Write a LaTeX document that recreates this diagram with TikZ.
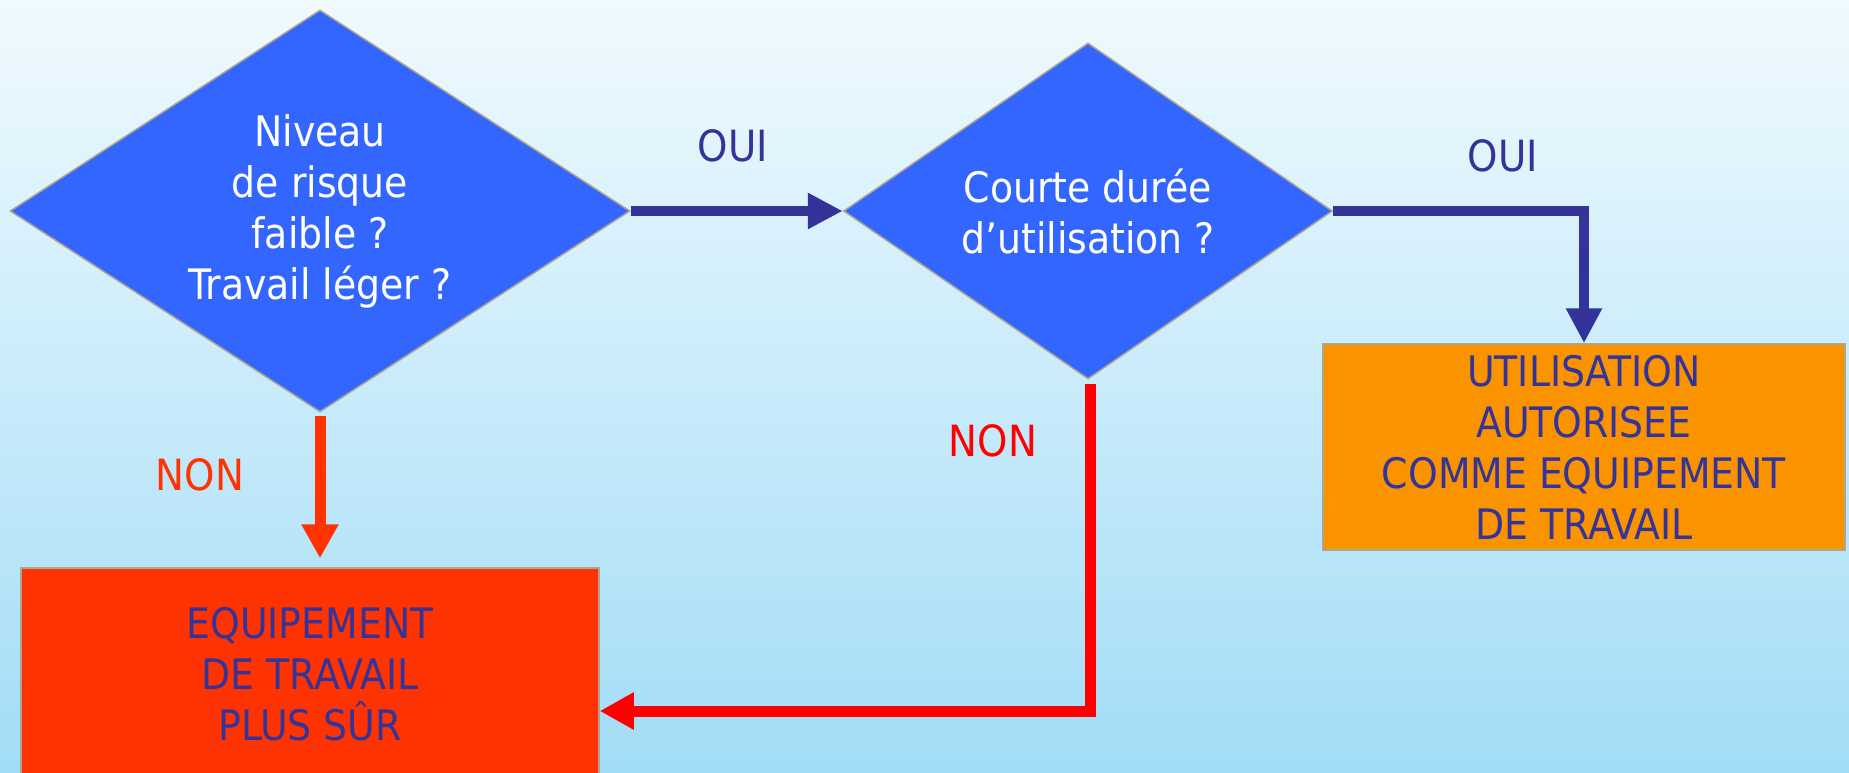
\documentclass[tikz,border=0pt]{standalone}
\usepackage{fontspec}
\setmainfont{DejaVu Sans Condensed}
\usetikzlibrary{arrows.meta,calc,shapes.geometric}
\definecolor{DBlue}{HTML}{3366FF}
\definecolor{DInk}{HTML}{333399}
\definecolor{DOrange}{HTML}{F99400}
\definecolor{DRed}{HTML}{FF3300}
\definecolor{DEdge}{HTML}{ADA590}
\definecolor{SkyTop}{HTML}{F0FAFE}
\definecolor{SkyBot}{HTML}{A2DCF6}

\begin{document}
\begin{tikzpicture}[
  x=1pt,y=-1pt,
  decision/.style={diamond,draw=DEdge,line width=1.5pt,fill=DBlue,text=white,inner sep=0pt,align=center,font=\fontsize{42}{51}\selectfont},
  result/.style={rectangle,draw=DEdge,line width=1.5pt,text=DInk,align=center,font=\fontsize{42}{51}\selectfont},
  yes/.style={-{Triangle[length=35pt,width=34pt]},line width=10pt,DInk,line join=miter},
  no/.style={-{Triangle[length=34pt,width=35pt]},line width=11pt,line join=miter},
  lbl/.style={font=\fontsize{43}{48}\selectfont}
]
\useasboundingbox (0,0) rectangle (1849,773);
\shade[top color=SkyTop,bottom color=SkyBot] (0,0) rectangle (1849,773);
\clip (0,0) rectangle (1849,773);
\node[decision,shape aspect=1.54,minimum width=620pt,minimum height=402pt] (risk) at (320,211) {Niveau\\de risque\\faible ?\\Travail léger ?};
\node[decision,shape aspect=1.46,minimum width=489pt,minimum height=336pt] (duree) at (1088,211) {Courte durée\\d’utilisation ?};
\node[result,fill=DOrange,minimum width=522pt,minimum height=206pt] (autorise) at (1584,447) {UTILISATION\\AUTORISEE\\COMME EQUIPEMENT\\DE TRAVAIL};
\node[result,fill=DRed,minimum width=578pt,minimum height=212pt] (sur) at (310,674) {EQUIPEMENT\\DE TRAVAIL\\PLUS SÛR};
\coordinate (coin) at (1090,711);
\draw[yes] (risk.east) -- (duree.west);
\draw[yes] (duree.east) -| (autorise.north);
\draw[no,DRed,shorten <=3pt,shorten >=9pt] (risk.south) -- (risk.south |- sur.north);
\draw[no,red,shorten <=4pt] (duree.south -| coin) -- (coin) -- (coin -| sur.east);
\node[lbl,text=DInk] (oui1) at (733,146) {OUI};
\node[lbl,text=DInk] (oui2) at (1503,156) {OUI};
\node[lbl,text=DRed] (non1) at (200,475) {NON};
\node[lbl,text=red] (non2) at (993,441) {NON};
\end{tikzpicture}
\end{document}
